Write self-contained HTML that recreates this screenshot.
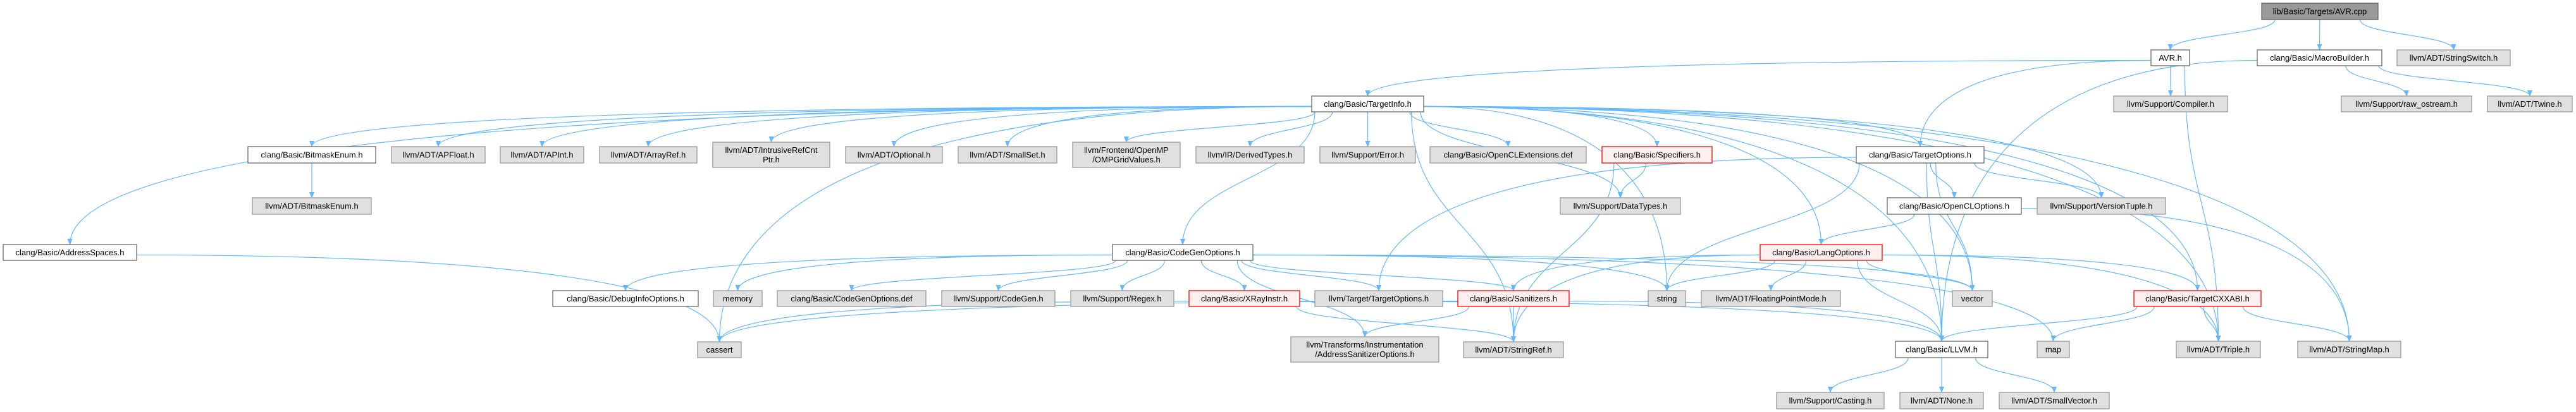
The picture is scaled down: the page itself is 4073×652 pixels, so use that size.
<!DOCTYPE html>
<html><head><meta charset="utf-8"><style>
html,body{margin:0;padding:0;background:#fff;width:4073px;height:652px;overflow:hidden}
svg{display:block}
text{font-family:"Liberation Sans",sans-serif;font-size:13px;fill:#000}
</style></head><body>
<svg id="g" width="4073" height="652" xmlns="http://www.w3.org/2000/svg">
<defs><marker id="a" markerWidth="10" markerHeight="10" refX="9" refY="5" orient="auto" markerUnits="userSpaceOnUse"><path d="M0,1 L10,5 L0,9 z" fill="#63b8ff"/></marker></defs>
<g id="E"></g><g id="N"></g>
</svg>
<script>
var N={
cpp:[3576,5,3760,31,"lib/Basic/Targets/AVR.cpp","r"],
avrh:[3401,79,3462,104,"AVR.h","w"],
mb:[3569,79,3766,104,"clang/Basic/MacroBuilder.h","w"],
ss:[3790,79,3969,104,"llvm/ADT/StringSwitch.h","g"],
ti:[2074,152,2251,177,"clang/Basic/TargetInfo.h","w"],
comp:[3342,152,3522,177,"llvm/Support/Compiler.h","g"],
raw:[3702,152,3908,177,"llvm/Support/raw_ostream.h","g"],
tw:[3933,152,4067,177,"llvm/ADT/Twine.h","g"],
bm:[392,232,594,258,"clang/Basic/BitmaskEnum.h","w"],
apf:[619,232,767,258,"llvm/ADT/APFloat.h","g"],
api:[791,232,923,258,"llvm/ADT/APInt.h","g"],
ar:[948,232,1102,258,"llvm/ADT/ArrayRef.h","g"],
irc:[1127,225,1312,265,"llvm/ADT/IntrusiveRefCnt|Ptr.h","g"],
opt:[1337,232,1490,258,"llvm/ADT/Optional.h","g"],
sset:[1515,232,1671,258,"llvm/ADT/SmallSet.h","g"],
omp:[1696,225,1866,265,"llvm/Frontend/OpenMP|/OMPGridValues.h","g"],
der:[1891,232,2062,258,"llvm/IR/DerivedTypes.h","g"],
err:[2087,232,2238,258,"llvm/Support/Error.h","g"],
ocl:[2261,232,2508,258,"clang/Basic/OpenCLExtensions.def","g"],
spec:[2533,232,2707,258,"clang/Basic/Specifiers.h","p"],
to:[2935,232,3137,258,"clang/Basic/TargetOptions.h","w"],
bml:[399,313,587,339,"llvm/ADT/BitmaskEnum.h","g"],
dt:[2467,313,2657,339,"llvm/Support/DataTypes.h","g"],
oclo:[2984,313,3196,339,"clang/Basic/OpenCLOptions.h","w"],
vt:[3221,313,3424,339,"llvm/Support/VersionTuple.h","g"],
as:[5,387,216,412,"clang/Basic/AddressSpaces.h","w"],
cgo:[1759,387,1981,412,"clang/Basic/CodeGenOptions.h","w"],
lo:[2783,387,2976,412,"clang/Basic/LangOptions.h","p"],
dbg:[874,460,1104,485,"clang/Basic/DebugInfoOptions.h","w"],
mem:[1128,460,1205,485,"memory","g"],
cgd:[1229,460,1464,485,"clang/Basic/CodeGenOptions.def","g"],
cg:[1489,460,1668,485,"llvm/Support/CodeGen.h","g"],
rx:[1693,460,1856,485,"llvm/Support/Regex.h","g"],
xr:[1880,460,2055,485,"clang/Basic/XRayInstr.h","p"],
tol:[2079,460,2281,485,"llvm/Target/TargetOptions.h","g"],
san:[2305,460,2481,485,"clang/Basic/Sanitizers.h","p"],
str:[2606,460,2665,485,"string","g"],
fpm:[2690,460,2910,485,"llvm/ADT/FloatingPointMode.h","g"],
vec:[3087,460,3150,485,"vector","g"],
cxx:[3374,460,3575,485,"clang/Basic/TargetCXXABI.h","p"],
ca:[1103,541,1172,566,"cassert","g"],
asan:[2041,533,2275,573,"llvm/Transforms/Instrumentation|/AddressSanitizerOptions.h","g"],
sr:[2314,541,2472,566,"llvm/ADT/StringRef.h","g"],
llvm:[2997,540,3143,566,"clang/Basic/LLVM.h","w"],
map:[3221,540,3272,566,"map","g"],
tri:[3441,540,3574,566,"llvm/ADT/Triple.h","g"],
sm:[3633,540,3796,566,"llvm/ADT/StringMap.h","g"],
cast:[2809,621,2979,647,"llvm/Support/Casting.h","g"],
none:[3004,621,3136,647,"llvm/ADT/None.h","g"],
sv:[3161,621,3335,647,"llvm/ADT/SmallVector.h","g"]
};
var E=[["cpp","avrh"],["cpp","mb"],["cpp","ss"],["avrh","ti"],["avrh","to"],["avrh","comp"],["avrh","tri"],
["mb","llvm"],["mb","raw"],["mb","tw"],
["ti","as"],["ti","bm"],["ti","cgo"],["ti","llvm"],["ti","lo"],["ti","spec"],["ti","cxx"],["ti","to"],["ti","apf"],["ti","api"],["ti","ar"],["ti","irc"],["ti","opt"],["ti","sset"],["ti","sm"],["ti","sr"],["ti","tri"],["ti","omp"],["ti","der"],["ti","dt"],["ti","err"],["ti","vt"],["ti","ca"],["ti","str"],["ti","vec"],["ti","ocl"],
["bm","bml"],["as","ca"],
["cgo","dbg"],["cgo","san"],["cgo","xr"],["cgo","cgd"],["cgo","cg"],["cgo","rx"],["cgo","tol"],["cgo","asan"],["cgo","map"],["cgo","mem"],["cgo","str"],["cgo","vec"],
["spec","dt"],["spec","sr"],
["to","oclo"],["to","tol"],["to","vt"],["to","str"],["to","vec"],["to","llvm"],
["oclo","lo"],["oclo","sm"],
["lo","san"],["lo","str"],["lo","fpm"],["lo","vec"],["lo","llvm"],["lo","tri"],["lo","sr"],["lo","cxx"],
["san","asan"],["san","sr"],["san","llvm"],["san","ca"],
["xr","llvm"],["xr","sr"],["xr","ca"],
["cxx","llvm"],["cxx","map"],["cxx","tri"],["cxx","sm"],
["llvm","cast"],["llvm","none"],["llvm","sv"]];
var ns="http://www.w3.org/2000/svg",Eg=document.getElementById("E"),Ng=document.getElementById("N");
E.forEach(function(e){var s=N[e[0]],t=N[e[1]];
 var sx=(s[0]+s[2])/2,tx=(t[0]+t[2])/2,sy,ty,d,w=s[2]-s[0];
 if(t[1]>s[3]+5){ty=t[1];
  if(Math.abs(tx-sx)>2.5*w){sy=(s[1]+s[3])/2+(tx<sx?4:4);sx=tx<sx?s[0]:s[2];
   var dx=tx-sx;d="M"+sx+","+sy+" C"+(sx+dx*0.7)+","+sy+" "+tx+","+(ty-(ty-sy)*0.6)+" "+tx+","+ty;}
  else{sy=s[3];sx=Math.max(s[0]+5,Math.min(s[2]-5,sx+(tx-sx)*0.3));
  var m=(ty-sy)*0.5;
  d="M"+sx+","+sy+" C"+sx+","+(sy+m)+" "+tx+","+(ty-m)+" "+tx+","+ty;}}
 else if(t[3]<s[1]){sy=s[1];ty=t[3];d="M"+sx+","+sy+" L"+tx+","+ty;}
 else{sy=(s[1]+s[3])/2;ty=(t[1]+t[3])/2;var x1=tx<sx?s[0]:s[2],x2=tx<sx?t[2]:t[0];d="M"+x1+","+sy+" C"+x1+","+(sy+20)+" "+x2+","+(ty+20)+" "+x2+","+ty;}
 var p=document.createElementNS(ns,"path");p.setAttribute("d",d);p.setAttribute("fill","none");p.setAttribute("stroke","#63b8ff");p.setAttribute("stroke-width","1.2");p.setAttribute("marker-end","url(#a)");Eg.appendChild(p);});
var C={r:["#999","#666"],w:["#fff","#666"],g:["#e0e0e0","#999"],p:["#fff0f0","#ff0000"]};
for(var k in N){var n=N[k],r=document.createElementNS(ns,"rect");
 r.setAttribute("x",n[0]);r.setAttribute("y",n[1]);r.setAttribute("width",n[2]-n[0]);r.setAttribute("height",n[3]-n[1]);
 r.setAttribute("fill",C[n[5]][0]);r.setAttribute("stroke",C[n[5]][1]);r.setAttribute("stroke-width","1.3");Ng.appendChild(r);
 var lines=n[4].split("|"),cy=(n[1]+n[3])/2;
 lines.forEach(function(l,i){var t=document.createElementNS(ns,"text");
  t.setAttribute("x",(n[0]+n[2])/2);t.setAttribute("y",cy+4.5+(i-(lines.length-1)/2)*15);t.setAttribute("text-anchor","middle");
  t.textContent=l;Ng.appendChild(t);
  var w=t.getComputedTextLength(),mx=n[2]-n[0]-18;if(w>mx){t.setAttribute("textLength",mx);t.setAttribute("lengthAdjust","spacingAndGlyphs");}});}
</script>
</body></html>
